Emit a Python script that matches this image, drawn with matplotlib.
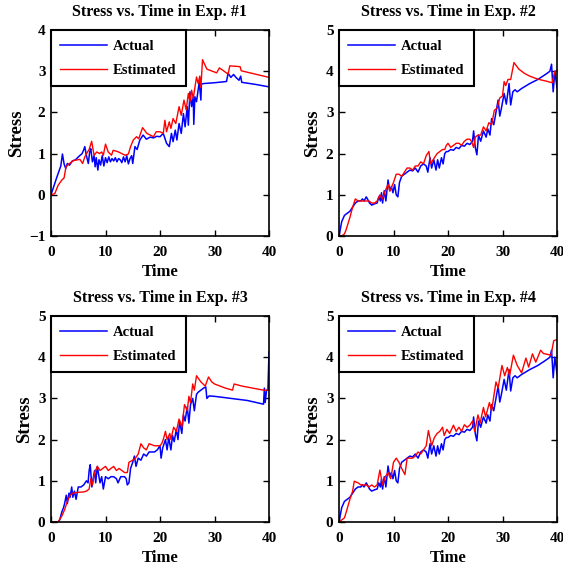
import matplotlib
matplotlib.use("Agg")
import matplotlib.pyplot as plt

plt.rcParams['font.family'] = ['Liberation Serif', 'DejaVu Serif']
plt.rcParams['font.weight'] = 'bold'

# ---------------- data ----------------
titles = ["Stress vs. Time in Exp. #1", "Stress vs. Time in Exp. #2",
          "Stress vs. Time in Exp. #3", "Stress vs. Time in Exp. #4"]
legend_labels = ["Actual", "Estimated"]
x_ticks = [0, 10, 20, 30, 40]
y_ticks_1 = [-1, 0, 1, 2, 3, 4]
y_ticks_other = [0, 1, 2, 3, 4, 5]

# Exp 1
t1a = [0, 0.5, 1.0, 1.4, 1.8, 2.1, 2.4, 2.7, 3.0, 3.4, 3.9, 4.5, 5.1, 5.7, 6.0, 6.2, 6.5, 6.85, 7.1, 7.3,
       7.6, 7.9, 8.1, 8.3, 8.6, 8.8, 9.1, 9.4, 9.7, 10.0, 10.3, 10.6, 10.9, 11.2, 11.5, 11.8, 12.1, 12.4, 12.7, 13.0,
       13.3, 13.6, 13.9, 14.2, 14.5, 14.8, 15.0, 15.4, 15.8, 16.3, 16.9, 17.5, 18.2, 18.8, 19.4, 20.0, 20.6, 21.2, 21.7, 22.1,
       22.4, 22.8, 23.1, 23.5, 23.9, 24.3, 24.6, 25.0, 25.2, 25.5, 25.8, 26.1, 26.2, 26.4, 26.7, 27.2, 27.5, 27.6, 28.0, 30.0,
       32.2, 32.5, 33.0, 33.5, 34.0, 34.5, 34.8, 35.0, 37.5, 40.0]
s1a = [0, 0.2, 0.4, 0.55, 0.7, 0.99, 0.75, 0.64, 0.76, 0.72, 0.82, 0.85, 0.93, 1.0, 1.09, 1.17, 0.95, 0.76, 1.05, 1.12,
       0.8, 0.95, 0.68, 0.9, 0.6, 0.85, 0.72, 0.95, 0.7, 0.9, 0.78, 0.92, 0.8, 0.88, 0.82, 0.9, 0.8, 0.88, 0.85, 0.78,
       0.92, 0.8, 0.95, 0.75, 0.88, 0.95, 0.76, 1.17, 1.1, 1.33, 1.45, 1.35, 1.4, 1.38, 1.42, 1.41, 1.49, 1.25, 1.17, 1.49,
       1.29, 1.57, 1.33, 1.73, 1.49, 1.97, 1.65, 2.14, 1.69, 2.5, 2.14, 2.38, 1.71, 2.38, 2.26, 2.74, 2.3, 2.69, 2.7, 2.72,
       2.75, 2.95, 2.85, 2.92, 2.84, 2.78, 2.88, 2.73, 2.68, 2.62]
t1e = [0, 0.7, 1.3, 2.0, 2.4, 2.75, 3.2, 4.1, 5.3, 5.8, 6.2, 6.7, 7.0, 7.46, 7.9, 8.4, 8.9, 9.3, 9.6, 10.0,
       10.5, 11.1, 11.4, 12.2, 13.0, 13.6, 14.2, 14.6, 15.1, 15.7, 16.1, 16.8, 17.6, 18.8, 19.3, 20.0, 20.6, 20.9, 21.2, 21.7,
       22.0, 22.4, 22.9, 23.5, 23.9, 24.4, 24.8, 25.2, 25.5, 25.8, 26.1, 26.7, 27.0, 27.3, 27.5, 27.8, 28.6, 30.4, 30.9, 32.5,
       32.8, 34.7, 34.9, 40.0]
s1e = [0, 0.03, 0.23, 0.36, 0.41, 0.68, 0.74, 0.83, 0.86, 0.76, 0.92, 1.04, 1.1, 1.3, 0.96, 1.04, 1.0, 1.04, 0.96, 1.23,
       1.04, 0.96, 1.08, 1.05, 1.0, 0.96, 0.99, 1.17, 1.33, 1.41, 1.36, 1.63, 1.49, 1.41, 1.53, 1.53, 1.49, 1.81, 1.53, 1.77,
       1.61, 1.85, 1.73, 2.14, 1.93, 2.3, 2.06, 2.46, 2.26, 2.54, 2.34, 2.86, 2.7, 2.88, 2.6, 3.28, 3.05, 2.96, 3.08, 2.93,
       3.13, 3.11, 3.01, 2.85]

# Exp 2 (actual series also shown in Exp 4)
t2a = [0, 0.5, 1.0, 1.5, 2.0, 2.5, 3.0, 3.5, 4.0, 4.3, 4.6, 5.0, 5.3, 5.6, 6.0, 6.5, 7.0, 7.3, 7.6, 7.8,
       8.0, 8.3, 8.6, 9.0, 9.3, 9.6, 9.9, 10.2, 10.5, 10.8, 11.1, 11.5, 12.0, 12.5, 13.0, 13.5, 14.0, 14.5, 15.0, 15.5,
       16.0, 16.3, 16.7, 17.0, 17.4, 17.8, 18.1, 18.4, 18.8, 19.1, 19.4, 19.7, 20.0, 20.5, 21.0, 21.5, 22.0, 22.5, 23.0, 23.5,
       24.0, 24.5, 24.7, 25.0, 25.3, 25.6, 26.0, 26.5, 27.0, 27.3, 27.7, 28.0, 28.4, 28.8, 29.2, 29.5, 29.8, 30.3, 30.7, 31.2,
       31.5, 31.9, 32.3, 32.7, 33.5, 35.0, 36.5, 38.2, 38.7, 39.0, 39.3, 39.6, 40.0]
s2a = [0, 0.35, 0.5, 0.55, 0.6, 0.7, 0.8, 0.85, 0.85, 0.9, 0.85, 0.95, 0.88, 0.8, 0.75, 0.78, 0.8, 0.95, 0.85, 1.05,
       0.8, 1.1, 0.85, 1.36, 1.1, 1.2, 1.05, 1.25, 1.0, 0.95, 1.3, 1.45, 1.5, 1.55, 1.6, 1.58, 1.65, 1.55, 1.7, 1.75,
       1.7, 1.55, 1.9, 1.65, 1.85, 1.6, 1.85, 1.65, 1.9, 1.75, 2.0, 2.05, 2.05, 2.1, 2.08, 2.15, 2.12, 2.2, 2.18, 2.25,
       2.22, 2.3, 2.55, 2.15, 1.97, 2.45, 2.3, 2.55, 2.4, 2.6, 2.45, 2.85, 2.7, 3.0, 3.3, 2.91, 3.1, 3.46, 3.2, 3.7,
       3.18, 3.5, 3.55, 3.5, 3.58, 3.7, 3.8, 3.95, 4.0, 4.17, 3.5, 4.0, 3.6]
t2e = [0, 0.5, 1.0, 1.3, 2.0, 2.5, 3.0, 3.5, 4.0, 5.0, 5.5, 6.0, 6.5, 7.0, 7.5, 8.0, 8.5, 9.0, 9.35, 10.0,
       10.5, 11.0, 11.5, 12.0, 12.5, 13.0, 13.5, 14.0, 14.5, 15.0, 15.5, 16.0, 16.5, 16.8, 17.5, 18.0, 18.5, 19.0, 19.4, 19.7,
       20.0, 20.5, 21.0, 21.5, 22.0, 22.5, 23.0, 23.5, 24.0, 24.3, 24.7, 25.0, 25.5, 26.0, 26.5, 27.0, 27.5, 28.0, 28.5, 29.0,
       29.5, 30.0, 30.3, 30.6, 31.0, 31.5, 32.1, 33.0, 34.0, 35.0, 36.0, 37.0, 38.0, 39.1, 39.6, 40.0]
s2e = [0, 0.0, 0.05, 0.15, 0.45, 0.7, 0.9, 0.85, 0.85, 0.85, 0.85, 0.8, 0.8, 0.85, 1.0, 0.9, 1.1, 1.25, 1.09, 1.3,
       1.5, 1.5, 1.45, 1.55, 1.65, 1.65, 1.6, 1.7, 1.7, 1.8, 1.75, 1.95, 2.05, 1.75, 1.9, 2.0, 2.05, 2.1, 2.1, 2.2,
       2.25, 2.15, 2.2, 2.25, 2.25, 2.2, 2.3, 2.35, 2.35, 2.3, 2.15, 2.4, 2.45, 2.45, 2.65, 2.55, 2.75, 2.7, 3.05, 3.1,
       3.35, 3.4, 3.75, 3.65, 3.8, 3.8, 4.21, 4.05, 3.95, 3.88, 3.83, 3.79, 3.76, 3.72, 3.99, 4.02]

# Exp 3
t3a = [0, 1.3, 1.6, 2.0, 2.3, 2.5, 2.8, 3.0, 3.3, 3.5, 3.8, 4.0, 4.3, 4.6, 5.0, 5.5, 6.0, 6.5, 6.8, 7.0,
       7.2, 7.5, 7.8, 8.0, 8.2, 8.5, 8.8, 9.0, 9.3, 9.6, 10.0, 10.5, 11.0, 11.5, 12.0, 12.3, 12.8, 13.5, 13.8, 14.0,
       14.3, 14.6, 15.0, 15.3, 15.6, 16.0, 16.5, 17.0, 17.5, 18.0, 18.5, 19.0, 19.5, 20.0, 20.2, 20.5, 21.0, 21.3, 21.6, 22.0,
       22.3, 22.6, 23.0, 23.3, 23.6, 24.0, 24.3, 24.6, 25.0, 25.3, 25.6, 26.0, 26.3, 26.7, 27.0, 28.0, 28.4, 28.6, 29.0, 30.0,
       33.0, 36.0, 39.0, 39.15, 39.3, 39.55, 39.8, 40.0]
s3a = [0, 0, 0.05, 0.25, 0.35, 0.45, 0.65, 0.45, 0.7, 0.6, 0.85, 0.6, 0.75, 0.55, 0.85, 0.85, 0.9, 1.0, 0.95, 1.25,
       1.39, 0.85, 1.1, 1.25, 0.95, 1.35, 1.1, 0.95, 1.1, 0.8, 1.1, 1.05, 1.1, 1.1, 1.05, 0.95, 1.1, 1.1, 1.05, 0.9,
       0.95, 1.3, 1.45, 1.6, 1.35, 1.55, 1.5, 1.65, 1.6, 1.7, 1.7, 1.7, 1.75, 1.85, 1.55, 1.8, 2.0, 1.75, 2.05, 1.75,
       2.1, 1.95, 2.25, 2.0, 2.45, 2.15, 2.6, 2.45, 2.8, 2.4, 2.85, 3.0, 2.7, 3.1, 3.15, 3.25, 3.28, 3.0, 3.06, 3.05,
       3.0, 2.95, 2.86, 3.25, 2.9, 3.2, 3.2, 4.13]
t3e = [0, 1.3, 2.0, 2.5, 3.0, 3.5, 4.0, 5.0, 6.0, 6.5, 7.0, 7.3, 7.6, 8.0, 8.5, 9.0, 9.5, 10.0, 10.5, 11.0,
       11.5, 12.0, 12.5, 13.0, 13.5, 14.0, 14.3, 15.0, 15.5, 16.0, 16.5, 17.0, 17.5, 18.0, 19.0, 20.0, 20.3, 20.6, 21.0, 21.3,
       21.8, 22.0, 22.5, 23.0, 23.5, 24.0, 24.5, 25.0, 25.3, 25.6, 26.0, 26.3, 26.7, 27.5, 28.3, 28.9, 29.5, 30.0, 31.0, 32.0,
       33.3, 33.6, 35.0, 37.0, 39.0, 40.0]
s3e = [0, 0, 0.15, 0.3, 0.5, 0.65, 0.7, 0.72, 0.73, 0.75, 0.8, 1.05, 0.9, 1.2, 1.35, 1.25, 1.3, 1.35, 1.25, 1.3,
       1.35, 1.25, 1.3, 1.25, 1.2, 1.2, 1.45, 1.5, 1.55, 1.65, 1.9, 1.8, 1.75, 1.9, 1.85, 1.85, 1.9, 2.0, 2.2, 2.0,
       2.15, 2.0, 2.3, 2.2, 2.5, 2.3, 2.85, 2.7, 3.05, 2.9, 3.35, 3.2, 3.55, 3.4, 3.3, 3.52, 3.4, 3.35, 3.3, 3.25,
       3.2, 3.35, 3.3, 3.25, 3.2, 3.2]

# Exp 4 (actual = same measured series as Exp 2)
t4a = t2a
s4a = s2a
t4e = [0, 1.0, 1.3, 2.0, 2.5, 2.8, 3.5, 4.0, 5.0, 5.5, 6.0, 6.5, 7.0, 7.5, 8.0, 8.5, 9.0, 9.5, 10.0, 10.5,
       11.0, 11.5, 12.1, 12.5, 13.0, 13.5, 14.0, 14.5, 15.0, 15.5, 16.0, 16.4, 17.0, 17.5, 18.0, 18.5, 19.0, 19.3, 19.8, 20.3,
       21.0, 21.5, 22.0, 22.5, 23.0, 23.5, 24.0, 24.5, 24.9, 25.5, 25.9, 26.5, 26.9, 27.6, 28.0, 28.8, 29.2, 29.9, 30.4, 30.9,
       31.3, 32.0, 32.7, 33.5, 34.3, 34.8, 35.5, 36.1, 37.0, 37.5, 38.9, 39.4, 40.0]
s4e = [0, 0.1, 0.23, 0.55, 0.75, 0.99, 0.95, 0.9, 0.9, 0.85, 0.9, 0.85, 0.9, 1.26, 0.9, 1.1, 1.2, 1.05, 1.45, 1.55,
       1.45, 1.3, 1.15, 1.55, 1.55, 1.55, 1.6, 1.7, 1.65, 1.75, 1.85, 2.22, 1.85, 2.05, 2.15, 2.2, 2.3, 2.1, 2.25, 2.15,
       2.35, 2.2, 2.3, 2.2, 2.36, 2.3, 2.35, 2.45, 2.2, 2.6, 2.4, 2.78, 2.55, 2.9, 2.7, 3.4, 3.25, 3.8, 3.55, 3.75,
       3.55, 4.05, 3.8, 3.62, 3.98, 3.76, 4.08, 3.88, 4.17, 4.09, 4.05, 4.4, 4.43]

series = [(t1a, s1a, t1e, s1e), (t2a, s2a, t2e, s2e), (t3a, s3a, t3e, s3e), (t4a, s4a, t4e, s4e)]
ylims = [(-1, 4), (0, 5), (0, 5), (0, 5)]
yticks = [y_ticks_1, y_ticks_other, y_ticks_other, y_ticks_other]

# ---------------- figure ----------------
W, H = 563, 576
fig = plt.figure(figsize=(W / 100, H / 100), dpi=100)

boxes = [(51, 30), (339, 30), (51, 316), (339, 316)]  # (left px, top px)
aw, ah = 218, 206

for i, (ta, sa, te, se) in enumerate(series):
    lx, ty = boxes[i]
    ax = fig.add_axes([lx / W, 1 - (ty + ah) / H, aw / W, ah / H])
    la, = ax.plot(ta, sa, color='#0000FF', lw=1.1)
    le, = ax.plot(te, se, color='#FF0000', lw=1.0)
    ax.set_xlim(0, 40)
    ax.set_ylim(*ylims[i])
    ax.set_xticks(x_ticks)
    ax.set_yticks(yticks[i])
    ax.tick_params(direction='in', top=True, right=True, length=4, width=1,
                   labelsize=11)
    ax.tick_params(axis='x', pad=7.5)
    ax.tick_params(axis='y', pad=4)
    for lab in ax.get_xticklabels() + ax.get_yticklabels():
        lab.set_fontweight('bold')
    for sp in ax.spines.values():
        sp.set_linewidth(1.2)
    ax.set_title(titles[i], fontsize=11.5, fontweight='bold', pad=10)
    ax.set_xlabel("Time", fontsize=12, fontweight='bold', labelpad=3)
    ax.set_ylabel("Stress", fontsize=13.5, fontweight='bold', labelpad=3)
    leg = ax.legend([la, le], legend_labels, loc='upper left', bbox_to_anchor=(0, 1),
                    borderaxespad=0, fancybox=False, framealpha=1, edgecolor='black',
                    prop={'family': 'Liberation Serif', 'weight': 'bold', 'size': 10.5},
                    handlelength=3.2, handletextpad=0.4, borderpad=0.65, labelspacing=0.75)
    leg.get_frame().set_linewidth(1.5)

fig.savefig("out.png", dpi=100)
